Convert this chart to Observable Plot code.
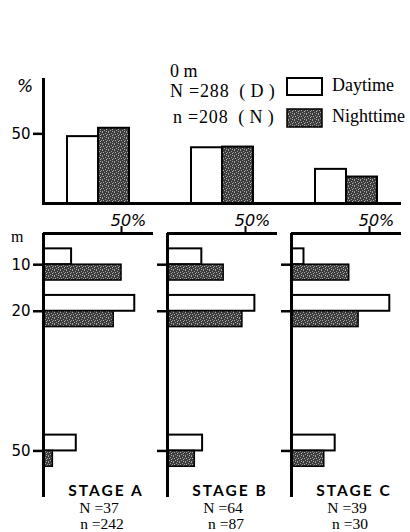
<!DOCTYPE html>
<html>
<head>
<meta charset="utf-8">
<script src="https://cdn.jsdelivr.net/npm/d3@7"></script>
<script src="https://cdn.jsdelivr.net/npm/@observablehq/plot@0.6"></script>
<style>
  html, body { margin: 0; padding: 0; background: #fff; }
  #wrap { position: relative; width: 410px; height: 532px; overflow: hidden; background: #fff; }
  #wrap svg { overflow: visible; }
</style>
</head>
<body>
<svg width="0" height="0" style="position:absolute">
  <defs>
    <pattern id="stip" width="6" height="6" patternUnits="userSpaceOnUse">
      <rect width="6" height="6" fill="#3c3c3c"/>
      <rect x="0" y="0" width="1" height="1" fill="#a8a8a8"/>
      <rect x="3" y="1" width="1" height="1" fill="#9a9a9a"/>
      <rect x="1" y="2" width="1" height="1" fill="#b0b0b0"/>
      <rect x="5" y="2" width="1" height="1" fill="#8f8f8f"/>
      <rect x="2" y="4" width="1" height="1" fill="#a0a0a0"/>
      <rect x="4" y="3" width="1" height="1" fill="#b8b8b8"/>
      <rect x="0" y="5" width="1" height="1" fill="#999"/>
      <rect x="4" y="5" width="1" height="1" fill="#aaa"/>
    </pattern>
  </defs>
</svg>
<div id="wrap"></div>
<script>
// ---------- data ----------
const stages = ["A", "B", "C"];
const stageLabels = ["STAGE A", "STAGE B", "STAGE C"];
const stageN = [37, 64, 39];
const stagen = [242, 87, 30];

// surface (0 m) percentages
const surfaceDay = [48, 40, 24.5];
const surfaceNight = [54, 40.5, 19];
const surfaceN = 288;
const surfacen = 208;

// depth panels
const depths = [10, 20, 50];
const dayA = [18, 58.5, 21];
const nightA = [50, 45, 6];
const dayB = [22, 56, 22.5];
const nightB = [36, 48, 17.5];
const dayC = [8, 63, 28];
const nightC = [37, 43, 21];

const dayByStage = [dayA, dayB, dayC];
const nightByStage = [nightA, nightB, nightC];

// ---------- layout ----------
const wrap = document.getElementById("wrap");
function place(el, left, top) {
  el.style.position = "absolute";
  el.style.left = left + "px";
  el.style.top = top + "px";
  wrap.appendChild(el);
}
const baseStyle = {fontFamily: "DejaVu Sans, sans-serif", fontSize: "15px", background: "transparent", color: "black"};

// ---------- top (0 m) panel ----------
const surface = stages.map((s, i) => ({stage: s, day: surfaceDay[i], night: surfaceNight[i]}));
const topPlot = Plot.plot({
  width: 410, height: 215,
  marginLeft: 43, marginRight: 9, marginTop: 79, marginBottom: 12,
  style: baseStyle,
  x: {domain: stages, paddingInner: 0.113, paddingOuter: 0, axis: null},
  y: {domain: [0, 89]},
  marks: [
    Plot.barY(surface, {x: "stage", y: "day", insetLeft: 24, insetRight: 55, fill: "white", stroke: "black", strokeWidth: 2}),
    Plot.barY(surface, {x: "stage", y: "night", insetLeft: 55, insetRight: 24, fill: "url(#stip)", stroke: "black", strokeWidth: 2}),
    Plot.axisY({anchor: "left", ticks: [50], tickSize: 10, tickPadding: 3, strokeWidth: 2.5, label: null}),
    Plot.frame({anchor: "left", strokeWidth: 3}),
    Plot.ruleY([0], {strokeWidth: 3})
  ]
});
place(topPlot, 0, 0);

// ---------- depth panels ----------
const xMax = 70.5;
const yDomain = [3.3, 60];
const band = 3.4;
const panelLeft = [0, 155, 279];
stages.forEach((s, i) => {
  const ml = i === 0 ? 43 : 12;
  const rows = depths.map((d, j) => ({depth: d, day: dayByStage[i][j], night: nightByStage[i][j]}));
  const p = Plot.plot({
    width: ml + 112, height: 293,
    marginLeft: ml, marginRight: 2, marginTop: 29, marginBottom: 0,
    style: baseStyle,
    x: {domain: [0, xMax]},
    y: {domain: yDomain, reverse: true},
    marks: [
      Plot.rect(rows, {x1: 0, x2: "day", y1: d => d.depth - band, y2: "depth", fill: "white", stroke: "black", strokeWidth: 2}),
      Plot.rect(rows, {x1: 0, x2: "night", y1: "depth", y2: d => d.depth + band, fill: "url(#stip)", stroke: "black", strokeWidth: 1.5}),
      Plot.axisX({anchor: "top", ticks: [50], tickSize: 8, tickPadding: 1, tickFormat: () => "", strokeWidth: 2, label: null}),
      Plot.axisX({anchor: "top", ticks: [50], tickSize: 0, tickPadding: 8, tickFormat: d => `${d}%`, fontStyle: "italic", fontSize: 16, dx: 7, label: null}),
      Plot.axisY({anchor: "left", ticks: depths, tickSize: 10, tickPadding: 3, tickFormat: i === 0 ? (d => d) : (() => ""), strokeWidth: 2.5, label: null}),
      Plot.ruleX([0], {strokeWidth: 3}),
      Plot.ruleY([yDomain[0]], {strokeWidth: 3})
    ]
  });
  place(p, panelLeft[i], 204);
});

// ---------- text overlay ----------
const ov = d3.create("svg").attr("width", 410).attr("height", 532).style("pointer-events", "none");
const serif = "Liberation Serif, DejaVu Serif, serif";
const sans = "DejaVu Sans, sans-serif";
function t(x, y, str, opts = {}) {
  ov.append("text").attr("x", x).attr("y", y).text(str)
    .attr("font-family", opts.family || serif)
    .attr("font-size", opts.size || 17)
    .attr("font-style", opts.style || "normal")
    .attr("font-weight", opts.weight || "normal")
    .attr("letter-spacing", opts.ls || 0)
    .attr("text-anchor", opts.anchor || "start");
}
t(17, 92, "%", {family: sans, style: "italic", size: 17});
t(170, 77, "0 m", {size: 18});
t(170, 97, `N =${surfaceN}\u2002(\u2009D\u2009)`, {size: 18, ls: 0.8});
t(173, 123, `n =${surfacen}\u2002(\u2009N\u2009)`, {size: 18, ls: 0.8});
// legend
ov.append("rect").attr("x", 287).attr("y", 78).attr("width", 35).attr("height", 17).attr("fill", "white").attr("stroke", "black").attr("stroke-width", 2);
ov.append("rect").attr("x", 287).attr("y", 109).attr("width", 35).attr("height", 18).attr("fill", "url(#stip)").attr("stroke", "black").attr("stroke-width", 1.5);
t(332, 91, "Daytime", {size: 18});
t(332, 122, "Nighttime", {size: 18});
t(11, 242, "m", {size: 16});
// stage labels
const axisX0 = [43, 167, 291];
stages.forEach((s, i) => {
  t(axisX0[i] + 63, 496, stageLabels[i], {family: "Lato, sans-serif", weight: "bold", size: 15.5, ls: 2, anchor: "middle"});
  t(axisX0[i] + 56, 512.5, `N =${stageN[i]}`, {size: 15.5, anchor: "middle"});
  t(axisX0[i] + 59, 529, `n =${stagen[i]}`, {size: 15.5, anchor: "middle"});
});
place(ov.node(), 0, 0);
</script>
</body>
</html>
